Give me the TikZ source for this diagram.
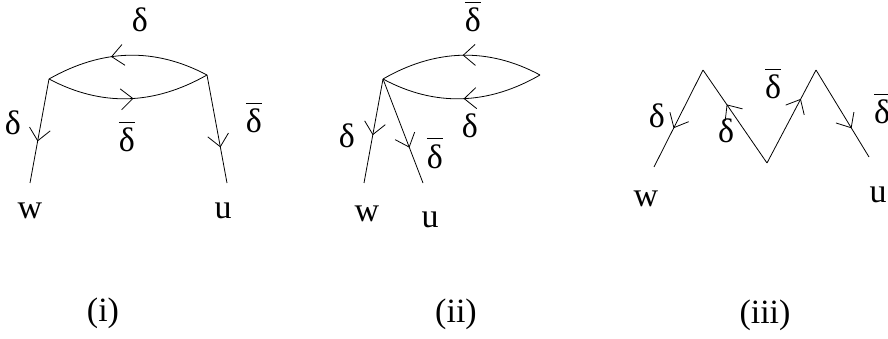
\documentclass[tikz,border=0pt]{standalone}
\usepackage{fontspec}
\setmainfont{Liberation Serif}
\usetikzlibrary{arrows.meta,decorations.markings}
\newlength\dw
\newcommand\dbar{\settowidth\dw{δ}\makebox[0pt][l]{\raisebox{0.86em}{\rule{\dw}{1pt}}}δ}
\tikzset{
  edge/.style={line width=0.8pt},
  midarrow/.style={postaction={decorate},decoration={markings,
     mark=at position #1 with {\arrow[line width=0.8pt]{Straight Barb[length=12pt,width=21pt]}}}},
  lbl/.style={inner sep=0pt,anchor=base,font=\fontsize{34}{38}\selectfont},
  caplbl/.style={inner sep=0pt,anchor=center,font=\fontsize{34}{38}\selectfont}
}
\begin{document}
\begin{tikzpicture}[x=1pt,y=-1pt]
\useasboundingbox (0,0) rectangle (888,339);
% ---------- (i)
\coordinate (A1) at (49,79);
\coordinate (B1) at (207,75);
\coordinate (W1) at (30,183);
\coordinate (U1) at (227,183);
\draw[edge,midarrow=0.6] (B1) .. controls (154,47) and (102,49) .. (A1);
\draw[edge,midarrow=0.53] (A1) .. controls (102,107) and (154,105) .. (B1);
\draw[edge,midarrow=0.6] (A1) -- (W1);
\draw[edge,midarrow=0.67] (B1) -- (U1);
\node[lbl] (d1a) at (140,32) {δ};
\node[lbl] (d1b) at (13,135) {δ};
\node[lbl] (d1c) at (127,152) {\dbar};
\node[lbl] (d1d) at (254,133) {\dbar};
\node[lbl] (w1) at (30,218) {w};
\node[lbl] (u1) at (223,218) {u};
\node[caplbl] (c1) at (103,313) {(i)};
% ---------- (ii)
\coordinate (A2) at (383,79);
\coordinate (T2) at (540,75);
\coordinate (W2) at (364,183);
\coordinate (U2) at (423,183);
\draw[edge,midarrow=0.49] (T2) .. controls (488,47) and (435,49) .. (A2);
\draw[edge,midarrow=0.49] (T2) .. controls (488,105) and (435,107) .. (A2);
\draw[edge,midarrow=0.54] (A2) -- (W2);
\draw[edge,midarrow=0.66] (A2) -- (U2);
\node[lbl] (d2a) at (473,32) {\dbar};
\node[lbl] (d2b) at (347,148) {δ};
\node[lbl] (d2c) at (435,168) {\dbar};
\node[lbl] (d2d) at (470,138) {δ};
\node[lbl] (w2) at (367,222) {w};
\node[lbl] (u2) at (430,227) {u};
\node[caplbl] (c2) at (456,314) {(ii)};
% ---------- (iii)
\coordinate (S3) at (654,167);
\coordinate (P3) at (703,70);
\coordinate (V3) at (767,163);
\coordinate (Q3) at (816,70);
\coordinate (E3) at (869,157);
\draw[edge,midarrow=0.6] (P3) -- (S3);
\draw[edge,midarrow=0.63] (V3) -- (P3);
\draw[edge,midarrow=0.69] (V3) -- (Q3);
\draw[edge,midarrow=0.67] (Q3) -- (E3);
\node[lbl] (d3a) at (657,128) {δ};
\node[lbl] (d3b) at (726,143) {δ};
\node[lbl] (d3c) at (773,99) {\dbar};
\node[lbl] (d3d) at (882,124) {\dbar};
\node[lbl] (w3) at (646,207) {w};
\node[lbl] (u3) at (878,203) {u};
\node[caplbl] (c3) at (765,315) {(iii)};
\end{tikzpicture}
\end{document}
